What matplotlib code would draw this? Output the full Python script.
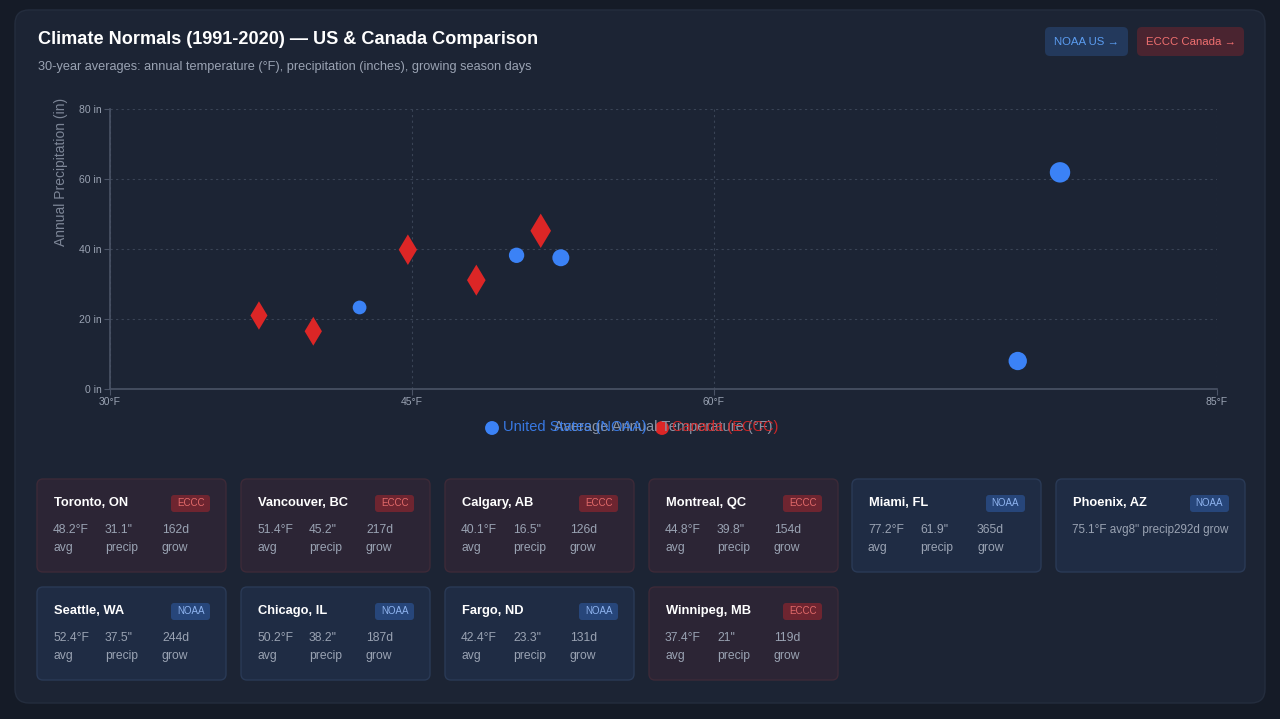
import numpy as np
import matplotlib
matplotlib.use('Agg')
import matplotlib.pyplot as plt
from matplotlib.patches import FancyBboxPatch

plt.rcParams['font.family'] = ['Liberation Sans', 'DejaVu Sans']

# city data (card order)
cities = ['Toronto, ON', 'Vancouver, BC', 'Calgary, AB', 'Montreal, QC', 'Miami, FL',
          'Phoenix, AZ', 'Seattle, WA', 'Chicago, IL', 'Fargo, ND', 'Winnipeg, MB']
source = ['ECCC', 'ECCC', 'ECCC', 'ECCC', 'NOAA', 'NOAA', 'NOAA', 'NOAA', 'NOAA', 'ECCC']
temps = [48.2, 51.4, 40.1, 44.8, 77.2, 75.1, 52.4, 50.2, 42.4, 37.4]
precip = [31.1, 45.2, 16.5, 39.8, 61.9, 8, 37.5, 38.2, 23.3, 21]
grow_days = [162, 217, 126, 154, 365, 292, 244, 187, 131, 119]

x_ticks = [30, 45, 60, 85]
y_ticks = [0, 20, 40, 60, 80]

W, H = 1280, 719
BG = '#151b27'
PANEL = '#1c2434'
BLUE = '#3b82f6'
RED = '#dc2626'
GREY = '#9aa3b3'

fig = plt.figure(figsize=(W / 100, H / 100), dpi=100)
fig.patch.set_facecolor(BG)

# background layer in pixel coordinates
bg = fig.add_axes([0, 0, 1, 1], zorder=0)
bg.set_xlim(0, W)
bg.set_ylim(H, 0)
bg.axis('off')


def rbox(x0, y0, x1, y1, fc, ec='none', r=6, lw=1):
    bg.add_patch(FancyBboxPatch((x0, y0), x1 - x0, y1 - y0,
                                boxstyle='round,pad=0,rounding_size=%d' % r,
                                fc=fc, ec=ec, lw=lw))


rbox(15, 10, 1265, 703, PANEL, ec='#242d3e', r=14)

bg.text(38, 40, 'Climate Normals (1991-2020) \u2014 US & Canada Comparison', color='white',
        fontsize=13.1, fontweight='bold', va='center', ha='left')
bg.text(38, 67, '30-year averages: annual temperature (\u00b0F), precipitation (inches), growing season days',
        color=GREY, fontsize=9.2, va='center', ha='left')

# top right buttons
rbox(1045, 27, 1128, 56, '#23395c', r=5)
bg.text(1086.5, 42, 'NOAA US \u2192', color='#5b9cf0', fontsize=8.2, ha='center', va='center')
rbox(1137, 27, 1244, 56, '#4a2430', r=5)
bg.text(1190.5, 42, 'ECCC Canada \u2192', color='#f07070', fontsize=8.2, ha='center', va='center')

# cards
card_w, card_h = 189, 93
card_x = [37, 241, 445, 649, 852, 1056]
card_y = [479, 587]
for i, name in enumerate(cities):
    cx = card_x[i % 6]
    cy = card_y[i // 6]
    if source[i] == 'ECCC':
        fc, ec, bfc, btc = '#2c2535', '#3d2a38', '#6e2530', '#e26a6a'
    else:
        fc, ec, bfc, btc = '#1f2c44', '#2a3a56', '#27467a', '#8fb4f0'
    rbox(cx, cy, cx + card_w, cy + card_h, fc, ec=ec, r=6)
    bg.text(cx + 17, cy + 24, name, color='white', fontsize=9.3, fontweight='bold',
            ha='left', va='center')
    bw = 39
    rbox(cx + card_w - 16 - bw, cy + 16, cx + card_w - 16, cy + 33, bfc, r=3)
    bg.text(cx + card_w - 16 - bw / 2, cy + 24.5, source[i], color=btc, fontsize=7,
            ha='center', va='center')
    t = '%.1f\u00b0F' % temps[i]
    p = '%g"' % precip[i]
    g = '%dd' % grow_days[i]
    if name == 'Phoenix, AZ':
        bg.text(cx + 16, cy + 51, t + ' avg' + p + ' precip' + g + ' grow', color=GREY,
                fontsize=8.4, ha='left', va='center')
    else:
        for dx, val, lab in [(16, t, 'avg'), (68, p, 'precip'), (125, g, 'grow')]:
            bg.text(cx + dx, cy + 51, val, color=GREY, fontsize=8.7, ha='left', va='center')
            bg.text(cx + dx, cy + 69, lab, color=GREY, fontsize=8.7, ha='left', va='center')

# scatter plot
ax = fig.add_axes([110 / W, 1 - 389 / H, (1217 - 110) / W, (389 - 109) / H], zorder=1)
ax.set_facecolor('none')
ax.set_xlim(30, 85)
ax.set_ylim(0, 80)

temps_a = np.array(temps)
precip_a = np.array(precip)
days_a = np.array(grow_days)
is_us = np.array([s == 'NOAA' for s in source])
rad_px = 5 + days_a / 70.0
pt = 100 / 72.0

ax.scatter(temps_a[is_us], precip_a[is_us], s=(2 * rad_px[is_us] / pt) ** 2,
           marker='o', color=BLUE, edgecolors='none', zorder=3)
ax.scatter(temps_a[~is_us], precip_a[~is_us], s=(3 * rad_px[~is_us] / pt) ** 2,
           marker='d', color=RED, edgecolors='none', zorder=3)

ax.set_xticks(x_ticks)
ax.set_xticklabels(['%d\u00b0F' % v for v in x_ticks])
ax.set_yticks(y_ticks)
ax.set_yticklabels(['%d in' % v for v in y_ticks])
ax.tick_params(colors=GREY, labelsize=7.5, length=4, width=0.8, color='#4a5366', pad=2)
ax.grid(True, color='#3a4456', linestyle=(0, (2, 3)), linewidth=0.8)
for side in ['top', 'right']:
    ax.spines[side].set_visible(False)
for side in ['left', 'bottom']:
    ax.spines[side].set_color('#4a5366')
    ax.spines[side].set_linewidth(1.2)

# axis titles (drawn where the reference places them)
bg.text(61, 172, 'Annual Precipitation (in)', rotation=90, color='#7d8697', fontsize=10,
        ha='center', va='center')
bg.text(663, 427, 'Average Annual Temperature (\u00b0F)', color='#8a93a4', fontsize=10.5,
        ha='center', va='center')

# legend (overlapping the x title, as in the reference)
bg.scatter([492], [428], s=100, color=BLUE, edgecolors='none')
bg.text(503, 427, 'United States (NOAA)', color=BLUE, fontsize=10.5, ha='left', va='center', alpha=0.9)
bg.scatter([662], [428], s=100, color=RED, edgecolors='none')
bg.text(672, 427, 'Canada (ECCC)', color=RED, fontsize=10.5, ha='left', va='center', alpha=0.9)

fig.savefig('out.png', dpi=100, facecolor=BG)
